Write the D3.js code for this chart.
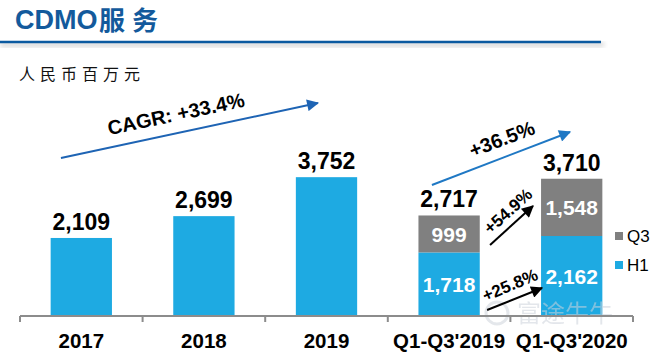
<!DOCTYPE html>
<html>
<head>
<meta charset="utf-8">
<script src="https://cdn.jsdelivr.net/npm/d3@7"></script>
<style>
  body { margin: 0; background: #fff; }
  svg { display: block; }
</style>
</head>
<body>
<svg id="chart" width="654" height="353"></svg>
<script>
const categories = ['2017', '2018', '2019', "Q1-Q3'2019", "Q1-Q3'2020"]
const h1Values = [2109, 2699, 3752, 1718, 2162]
const q3Values = [0, 0, 0, 999, 1548]
const stacked = [false, false, false, true, true]
const legendKeys = ['Q3', 'H1']

// growth annotations: band position (t, in steps) and value
const arrowStarts = [[0.334, 4270], [3.36, 3541], [3.834, 1919], [3.81, 162]]
const arrowEnds = [[2.43, 5757], [4.486, 4973], [4.184, 2973], [4.258, 757]]
const growthLabels = ['CAGR: +33.4%', '+36.5%', '+54.9%', '+25.8%']
const labelPos = [[1.272, 5459], [3.93, 4784], [3.98, 2838], [3.997, 838]]
const labelAngle = [-12, -21, -42, -23]

const blue = '#1eaae2'
const grey = '#808080'
const navy = '#135a9c'

const svg = d3.select('#chart')
const font = 'Arial, "Liberation Sans", sans-serif'

const x = d3.scaleBand().domain(categories).range([20, 633]).paddingInner(0.5).paddingOuter(0.25)
const y = d3.scaleLinear().domain([0, 4000]).range([316, 168])
const tx = t => x.range()[0] + t * x.step()

// header
const defs = svg.append('defs')
defs.append('filter').attr('id', 'blur')
  .append('feGaussianBlur').attr('stdDeviation', 2.5)

svg.append('rect')
  .attr('x', 0).attr('y', 42).attr('width', 604).attr('height', 5)
  .attr('fill', '#d8d8d8')
  .attr('filter', 'url(#blur)')
svg.append('line')
  .attr('x1', 0).attr('x2', 601).attr('y1', 42).attr('y2', 42)
  .attr('stroke', '#0b5aa0').attr('stroke-width', 2.5)

svg.append('text')
  .attr('x', 15).attr('y', 29)
  .attr('font-family', font)
  .attr('font-weight', 'bold')
  .attr('font-size', '27px')
  .attr('fill', navy)
  .text('CDMO')
svg.append('text')
  .attr('x', 99).attr('y', 30)
  .attr('font-family', '"Noto Sans CJK SC", sans-serif')
  .attr('font-weight', 'bold')
  .attr('font-size', '26px')
  .attr('fill', navy)
  .text('服')
svg.append('text')
  .attr('x', 132).attr('y', 30)
  .attr('font-family', '"Noto Sans CJK SC", sans-serif')
  .attr('font-weight', 'bold')
  .attr('font-size', '26px')
  .attr('fill', navy)
  .text('务')

svg.append('text')
  .attr('x', 19).attr('y', 80)
  .attr('font-family', '"Noto Sans CJK SC", sans-serif')
  .attr('font-size', '16px')
  .attr('letter-spacing', 5)
  .attr('fill', '#111')
  .text('人民币百万元')

// bars
const bars = svg.append('g')
categories.forEach((c, i) => {
  bars.append('rect')
    .attr('x', x(c)).attr('width', x.bandwidth())
    .attr('y', y(h1Values[i])).attr('height', y(0) - y(h1Values[i]))
    .attr('fill', blue)
  if (stacked[i]) {
    const top = h1Values[i] + q3Values[i]
    bars.append('rect')
      .attr('x', x(c)).attr('width', x.bandwidth())
      .attr('y', y(top)).attr('height', y(h1Values[i]) - y(top))
      .attr('fill', grey)
    bars.append('text')
      .attr('x', x(c) + x.bandwidth() / 2)
      .attr('y', y(h1Values[i] / 2) + 8)
      .attr('text-anchor', 'middle')
      .attr('font-family', font).attr('font-weight', 'bold').attr('font-size', '21px')
      .attr('fill', '#fff')
      .text(d3.format(',')(h1Values[i]))
    bars.append('text')
      .attr('x', x(c) + x.bandwidth() / 2)
      .attr('y', y(h1Values[i] + q3Values[i] / 2) + 8)
      .attr('text-anchor', 'middle')
      .attr('font-family', font).attr('font-weight', 'bold').attr('font-size', '21px')
      .attr('fill', '#fff')
      .text(d3.format(',')(q3Values[i]))
  }
  const total = h1Values[i] + q3Values[i]
  bars.append('text')
    .attr('x', x(c) + x.bandwidth() / 2)
    .attr('y', y(total) - 8)
    .attr('text-anchor', 'middle')
    .attr('font-family', font).attr('font-weight', 'bold').attr('font-size', '23px')
    .attr('fill', '#000')
    .text(d3.format(',')(total))
})

// watermark
const wm = svg.append('g').attr('opacity', 0.55)
wm.append('circle')
  .attr('cx', 497).attr('cy', 313).attr('r', 11)
  .attr('fill', 'none').attr('stroke', '#cdd3db').attr('stroke-width', 3)
wm.append('text')
  .attr('x', 517).attr('y', 322)
  .attr('font-family', '"Noto Sans CJK SC", sans-serif')
  .attr('font-size', '24px')
  .attr('fill', '#cdd3db')
  .text('富途牛牛')

// axis
const axis = svg.append('g')
axis.append('line')
  .attr('x1', x.range()[0]).attr('x2', x.range()[1])
  .attr('y1', y(0)).attr('y2', y(0))
  .attr('stroke', '#8c8c8c').attr('stroke-width', 2)
d3.range(categories.length + 1).forEach(k => {
  axis.append('line')
    .attr('x1', tx(k)).attr('x2', tx(k))
    .attr('y1', y(0)).attr('y2', y(0) + 6)
    .attr('stroke', '#8c8c8c').attr('stroke-width', 2)
})
categories.forEach(c => {
  axis.append('text')
    .attr('x', x(c) + x.bandwidth() / 2)
    .attr('y', 348)
    .attr('text-anchor', 'middle')
    .attr('font-family', font).attr('font-weight', 'bold').attr('font-size', '20.5px')
    .attr('fill', '#000')
    .text(c)
})

// legend
const legend = svg.append('g')
legendKeys.forEach((k, i) => {
  legend.append('rect')
    .attr('x', 615).attr('y', 232 + i * 29)
    .attr('width', 8).attr('height', 8)
    .attr('fill', k === 'Q3' ? grey : blue)
  legend.append('text')
    .attr('x', 627).attr('y', 242 + i * 29)
    .attr('font-family', font).attr('font-size', '17px')
    .attr('fill', '#000')
    .text(k)
})

// arrows
const arrowColors = ['#1e64b4', '#1f78c4', '#000', '#000']
arrowColors.forEach((col, i) => {
  defs.append('marker')
    .attr('id', 'arr' + i)
    .attr('viewBox', '0 0 10 10')
    .attr('refX', 9).attr('refY', 5)
    .attr('markerWidth', 7).attr('markerHeight', 6)
    .attr('markerUnits', 'strokeWidth')
    .attr('orient', 'auto')
    .append('path').attr('d', 'M0,0L10,5L0,10z').attr('fill', col)
})
const notes = svg.append('g')
growthLabels.forEach((lab, i) => {
  notes.append('line')
    .attr('x1', tx(arrowStarts[i][0])).attr('y1', y(arrowStarts[i][1]))
    .attr('x2', tx(arrowEnds[i][0])).attr('y2', y(arrowEnds[i][1]))
    .attr('stroke', arrowColors[i]).attr('stroke-width', 2)
    .attr('marker-end', `url(#arr${i})`)
  const px = tx(labelPos[i][0])
  const py = y(labelPos[i][1])
  notes.append('text')
    .attr('transform', `translate(${px},${py}) rotate(${labelAngle[i]})`)
    .attr('text-anchor', 'middle')
    .attr('dy', '0.35em')
    .attr('font-family', font).attr('font-weight', 'bold')
    .attr('font-size', i < 2 ? '20px' : '17px')
    .attr('fill', '#000')
    .text(lab)
})
</script>
</body>
</html>
